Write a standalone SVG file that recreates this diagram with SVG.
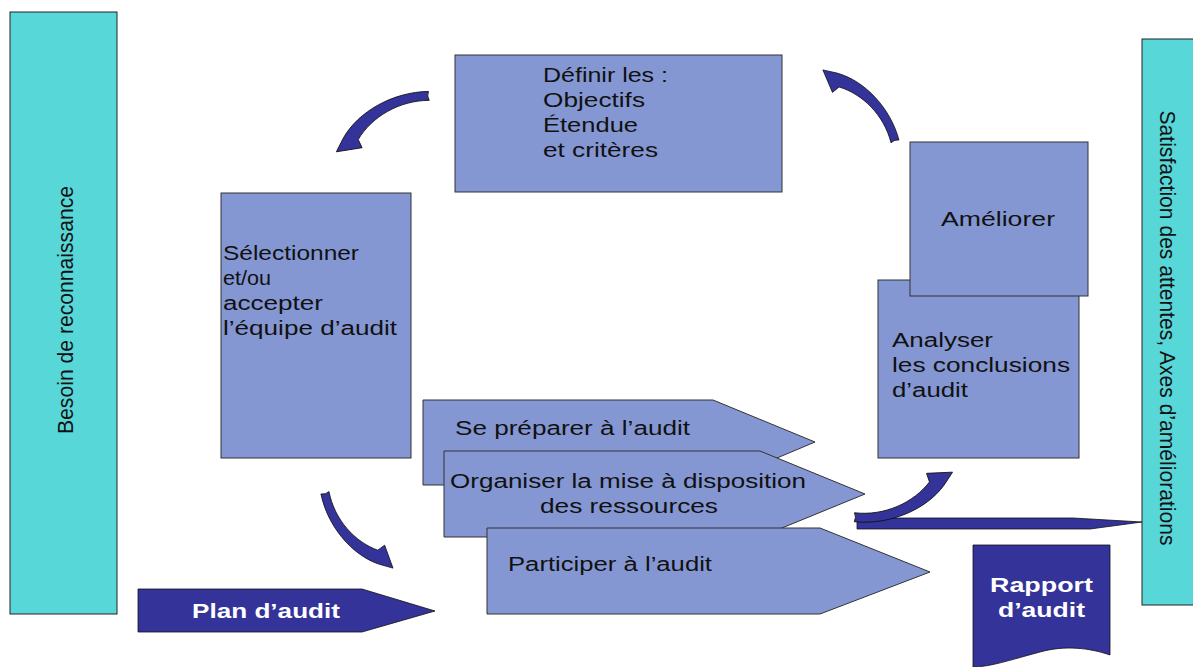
<svg xmlns="http://www.w3.org/2000/svg" width="1193" height="667" viewBox="0 0 1193 667">
<style>
.bar{fill:#57D7D8;stroke:#222;stroke-width:1}
.box{fill:#8497D3;stroke:#333;stroke-width:1}
.navy{fill:#333399;stroke:#111;stroke-width:0.8}
.t{font-family:"Liberation Sans",Arial,sans-serif;font-size:20px;fill:#111}
.v{font-family:"Liberation Sans",Arial,sans-serif;font-size:22px;fill:#111}
.w{font-family:"Liberation Sans",Arial,sans-serif;font-size:21px;font-weight:bold;fill:#fff}
</style>
<defs>
<path id="carrow" d="M0,3 C30,21 70,23 97,8 L110,0 L86,-10 L85,-1 C62,11 30,11 4,-5 Q4,0 0,3 Z"/>
</defs>
<rect width="1193" height="667" fill="#fff"/>

<g id="besoin">
<rect class="bar" x="10" y="12" width="107" height="602"/>
<text class="v" transform="translate(73,310) rotate(-90)" text-anchor="middle" textLength="248" lengthAdjust="spacingAndGlyphs">Besoin de reconnaissance</text>
</g>
<g id="satisfaction">
<rect class="bar" x="1142" y="39" width="60" height="566"/>
<text class="v" transform="translate(1160,328) rotate(90)" text-anchor="middle" textLength="435" lengthAdjust="spacingAndGlyphs">Satisfaction des attentes, Axes d’améliorations</text>
</g>

<g id="definir">
<rect class="box" x="455" y="55" width="327" height="137"/>
<text class="t" x="543" y="82" textLength="125" lengthAdjust="spacingAndGlyphs">Définir les :</text>
<text class="t" x="543" y="107" textLength="102" lengthAdjust="spacingAndGlyphs">Objectifs</text>
<text class="t" x="543" y="132" textLength="95" lengthAdjust="spacingAndGlyphs">Étendue</text>
<text class="t" x="543" y="157" textLength="115" lengthAdjust="spacingAndGlyphs">et critères</text>
</g>
<g id="selectionner">
<rect class="box" x="221" y="193" width="190" height="265"/>
<text class="t" x="223" y="260" textLength="136" lengthAdjust="spacingAndGlyphs">Sélectionner</text>
<text class="t" x="223" y="285" textLength="48" lengthAdjust="spacingAndGlyphs">et/ou</text>
<text class="t" x="223" y="310" textLength="100" lengthAdjust="spacingAndGlyphs">accepter</text>
<text class="t" x="223" y="335" textLength="174" lengthAdjust="spacingAndGlyphs">l’équipe d’audit</text>
</g>
<g id="analyser">
<rect class="box" x="878" y="280" width="201" height="178"/>
<text class="t" x="892" y="347" textLength="101" lengthAdjust="spacingAndGlyphs">Analyser</text>
<text class="t" x="892" y="372" textLength="178" lengthAdjust="spacingAndGlyphs">les conclusions</text>
<text class="t" x="892" y="397" textLength="76" lengthAdjust="spacingAndGlyphs">d’audit</text>
</g>
<g id="ameliorer">
<rect class="box" x="910" y="142" width="178" height="154"/>
<text class="t" x="941" y="226" textLength="114" lengthAdjust="spacingAndGlyphs">Améliorer</text>
</g>

<g id="preparer">
<polygon class="box" points="423,400 713,400 815,442 713,485 423,485"/>
<text class="t" x="455" y="435" textLength="235" lengthAdjust="spacingAndGlyphs">Se préparer à  l’audit</text>
</g>
<g id="organiser">
<polygon class="box" points="444,451 760,451 865,494 760,537 444,537"/>
<text class="t" x="450" y="488" textLength="356" lengthAdjust="spacingAndGlyphs">Organiser la mise à disposition</text>
<text class="t" x="540" y="513" textLength="178" lengthAdjust="spacingAndGlyphs">des ressources</text>
</g>
<g id="participer">
<polygon class="box" points="487,528 820,528 930,572 820,614 487,614"/>
<text class="t" x="508" y="571" textLength="204" lengthAdjust="spacingAndGlyphs">Participer à l’audit</text>
</g>

<g id="plan">
<polygon class="navy" points="138,589 362,589 435,611 362,632 138,632"/>
<text class="w" x="192" y="618" textLength="148" lengthAdjust="spacingAndGlyphs">Plan d’audit</text>
</g>
<g id="rapport">
<path class="navy" d="M973,545 H1110 V655 C1090,648 1065,645 1040,652 C1010,660 990,667 973,667 Z"/>
<text class="w" x="990" y="592" textLength="103" lengthAdjust="spacingAndGlyphs">Rapport</text>
<text class="w" x="998" y="617" textLength="87" lengthAdjust="spacingAndGlyphs">d’audit</text>
</g>

<g id="connectors">
<polygon class="navy" points="857,518 1073,518 1142,522 1090,529 857,529"/>
<use href="#carrow" class="navy" transform="translate(430,94) rotate(148.3)"/>
<use href="#carrow" class="navy" transform="translate(897,142) rotate(-135.8) scale(0.94)"/>
<use href="#carrow" class="navy" transform="translate(323,492) rotate(47.4) scale(0.94)"/>
<use href="#carrow" class="navy" transform="translate(853,519) rotate(-25.2)"/>
</g>
</svg>
